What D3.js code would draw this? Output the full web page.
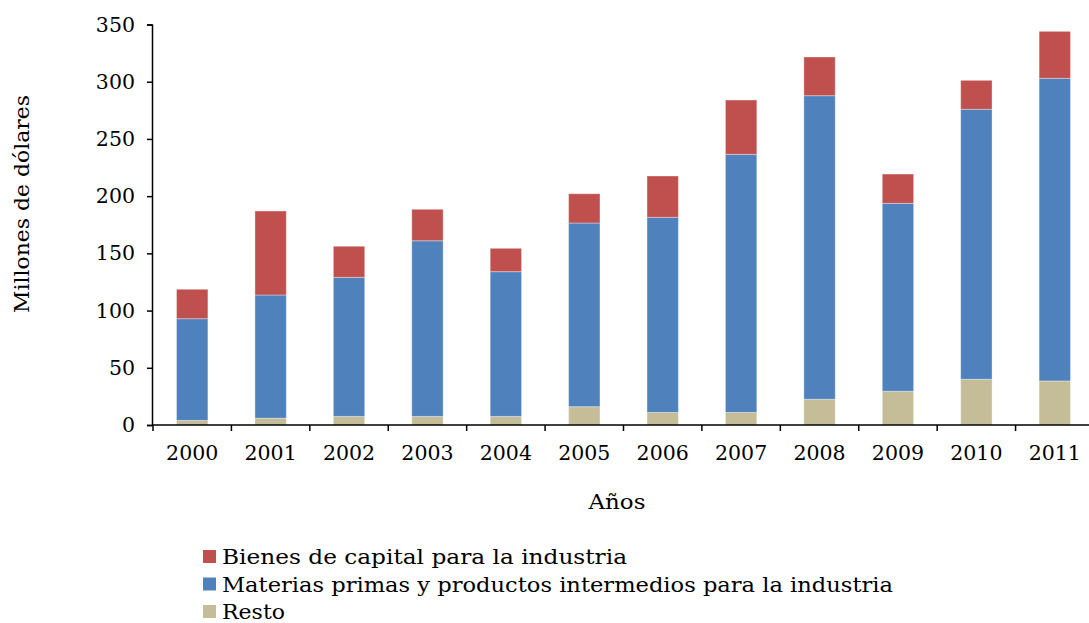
<!DOCTYPE html>
<html>
<head>
<meta charset="utf-8">
<script src="https://cdn.jsdelivr.net/npm/d3@7"></script>
<style>
  body { margin: 0; background: #fff; }
  svg { display: block; font-family: 'DejaVu Serif', serif; }
</style>
</head>
<body>
<svg id="chart" width="1089" height="623"></svg>
<script>
// data
const years = ['2000', '2001', '2002', '2003', '2004', '2005', '2006', '2007', '2008', '2009', '2010', '2011']
const resto = [4, 6, 7.5, 7.5, 7.5, 16, 11, 11, 22.5, 29.5, 40, 38.5]
const materias = [88.9, 107.6, 121.5, 153.5, 126.5, 160.5, 170.5, 225.5, 265.3, 164.2, 235.9, 264.5]
const bienes = [25.7, 73.4, 27.2, 27.5, 20.4, 25.6, 36.1, 47.5, 33.8, 25.6, 25.3, 41]
const yTicks = [0, 50, 100, 150, 200, 250, 300, 350]

const seriesKeys = ['resto', 'materias', 'bienes']
const seriesColor = { resto: '#C4BD97', materias: '#4F81BD', bienes: '#C0504D' }
const legendItems = [
  { key: 'bienes', label: 'Bienes de capital para la industria', w: 405 },
  { key: 'materias', label: 'Materias primas y productos intermedios para la industria', w: 671 },
  { key: 'resto', label: 'Resto', w: 63 }
]

const rows = years.map((y, i) => ({ year: y, resto: resto[i], materias: materias[i], bienes: bienes[i] }))
const stacked = d3.stack().keys(seriesKeys)(rows)

const svg = d3.select('#chart')

const x = d3.scaleBand()
  .domain(years)
  .range([153, 1094])
  .paddingInner(0.6)
  .paddingOuter(0.3)

const y = d3.scaleLinear()
  .domain([0, 350])
  .range([425, 24.5])

// bars
svg.append('g')
  .selectAll('g')
  .data(stacked)
  .join('g')
  .attr('fill', d => seriesColor[d.key])
  .selectAll('rect')
  .data(d => d)
  .join('rect')
  .attr('x', d => x(d.data.year))
  .attr('width', x.bandwidth())
  .attr('y', d => y(d[1]))
  .attr('height', d => y(d[0]) - y(d[1]))
  .attr('stroke', 'rgba(255,255,255,0.35)')
  .attr('stroke-width', 1)

// y axis
const yAxis = svg.append('g')
  .attr('transform', 'translate(152,0)')
  .call(d3.axisLeft(y).tickValues(yTicks).tickSize(5).tickPadding(12))
yAxis.select('.domain').attr('stroke', '#000').attr('stroke-width', 1.5)
yAxis.selectAll('.tick line').attr('stroke', '#000').attr('stroke-width', 1.5)
yAxis.selectAll('.tick text')
  .attr('font-size', 20.5)
  .attr('fill', '#000')
  .attr('font-family', 'DejaVu Serif')

// x axis: baseline with ticks between categories
const xAxis = svg.append('g').attr('transform', 'translate(0,425)')
xAxis.append('line')
  .attr('x1', 152).attr('x2', 1089)
  .attr('stroke', '#000').attr('stroke-width', 1.5)
const step = x.step()
const boundaries = years.map((yr, i) => x(yr) - (step - x.bandwidth()) / 2)
boundaries.push(x(years[years.length - 1]) + x.bandwidth() + (step - x.bandwidth()) / 2)
xAxis.selectAll('.xtick')
  .data(boundaries)
  .join('line')
  .attr('class', 'xtick')
  .attr('x1', d => d).attr('x2', d => d)
  .attr('y1', 0).attr('y2', 6)
  .attr('stroke', '#000').attr('stroke-width', 1.5)
xAxis.selectAll('.xlabel')
  .data(years)
  .join('text')
  .attr('class', 'xlabel')
  .attr('x', d => x(d) + x.bandwidth() / 2)
  .attr('y', 35)
  .attr('text-anchor', 'middle')
  .attr('font-size', 20.5)
  .text(d => d)

// axis titles
svg.append('text')
  .attr('x', 617).attr('y', 509)
  .attr('text-anchor', 'middle')
  .attr('font-size', 21)
  .attr('textLength', 57)
  .attr('lengthAdjust', 'spacingAndGlyphs')
  .text('Años')

svg.append('text')
  .attr('transform', 'translate(29,204) rotate(-90)')
  .attr('text-anchor', 'middle')
  .attr('font-size', 21)
  .attr('textLength', 218)
  .attr('lengthAdjust', 'spacingAndGlyphs')
  .text('Millones de dólares')

// legend
const legend = svg.append('g').attr('transform', 'translate(203,550)')
const li = legend.selectAll('g')
  .data(legendItems)
  .join('g')
  .attr('transform', (d, i) => `translate(0,${i * 27.5})`)
li.append('rect')
  .attr('width', 13).attr('height', 13)
  .attr('fill', d => seriesColor[d.key])
li.append('text')
  .attr('x', 19).attr('y', 14)
  .attr('font-size', 21)
  .attr('textLength', d => d.w)
  .attr('lengthAdjust', 'spacingAndGlyphs')
  .text(d => d.label)
</script>
</body>
</html>
